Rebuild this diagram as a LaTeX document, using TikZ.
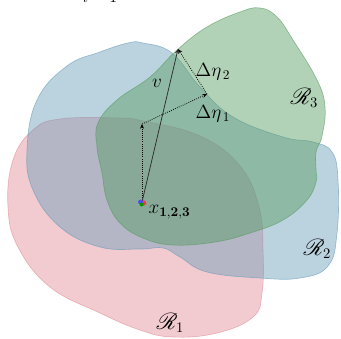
\documentclass[tikz,border=0pt]{standalone}
\usepackage{amsmath,mathrsfs}
\usetikzlibrary{arrows.meta}
\begin{document}
\begin{tikzpicture}[x=0.75pt,y=-0.75pt,font=\fontsize{14}{16}\selectfont]
  \definecolor{regred}{RGB}{225,140,150}
  \definecolor{regblue}{RGB}{105,155,185}
  \definecolor{reggreen}{RGB}{85,155,95}
  \tikzset{
    region/.style={line width=0.5pt,fill opacity=0.45,draw opacity=0.6},
    step arrow/.style={densely dotted,line width=0.6pt,-{Stealth[length=3.5pt,width=3pt]}},
    label/.style={inner sep=1pt},
    regname/.style={inner sep=1pt,anchor=west,font=\fontsize{16}{18}\selectfont}
  }
  \useasboundingbox (0,0) rectangle (341,338);
  %% cut-off subscript of the sum above the figure
  \node[anchor=base,font=\fontsize{12}{14}\selectfont] (sumidx) at (100,3) {$i=1$};

  %% the three regions, red at the back, green on top
  \path[region,draw=regred,fill=regred] plot[smooth cycle,tension=0.7] coordinates {
    (60,119) (117,118) (143,121) (200,136) (240,166) (259,207) (263,250) (262,293)
    (253,317) (217,333) (173,337) (140,330) (100,313) (50,287) (18,247) (8,207) (13,160) (33,130)};
  \path[region,draw=regblue,fill=regblue] plot[smooth cycle,tension=0.7] coordinates {
    (143,43) (172,53) (200,87) (233,117) (283,137) (313,142) (332,152) (338,180)
    (337,233) (328,266) (300,278) (260,278) (207,272) (180,257) (163,248) (140,249)
    (100,247) (60,227) (33,190) (27,150) (37,100) (67,66) (100,52) (128,43)};
  \path[region,draw=reggreen,fill=reggreen] plot[smooth cycle,tension=0.7] coordinates {
    (260,8) (277,17) (293,40) (317,80) (325,107) (322,136) (316,152) (316,170)
    (316,182) (307,200) (283,220) (250,233) (215,242) (173,245) (143,238) (120,223)
    (107,200) (102,173) (97,147) (98,123) (117,100) (150,77) (177,50) (207,27) (240,12)};

  %% start point and steps
  \coordinate (x0) at (142,202);
  \coordinate (p1) at (142,124);
  \coordinate (p2) at (207,94);
  \coordinate (p3) at (178,49);
  \draw[step arrow] (x0) -- (p1);
  \draw[step arrow] (p1) -- (p2);
  \draw[step arrow] (p2) -- (p3);
  \draw[line width=0.6pt,black!80,-{Stealth[length=3.5pt,width=3pt]}] (x0) -- (p3);
  \fill[red!80] (143.5,203) circle (2pt);
  \fill[blue!70] (140.5,202) circle (1.8pt);
  \fill[green!60!black] (141.5,204.5) circle (1.5pt);

  \node[label] (lv) at (157,83) {$v$};
  \node[label,anchor=west] (leta2) at (194,72) {$\Delta\eta_{\,2}$};
  \node[label,anchor=west] (leta1) at (194,114) {$\Delta\eta_{\,1}$};
  \node[label,anchor=west] (lx) at (147,212) {$x_{\mathbf{1,2,3}}$};
  \node[regname] (lr3) at (289,98) {$\mathscr{R}_3$};
  \node[regname] (lr2) at (302,249) {$\mathscr{R}_2$};
  \node[regname] (lr1) at (155,323) {$\mathscr{R}_1$};
\end{tikzpicture}
\end{document}
